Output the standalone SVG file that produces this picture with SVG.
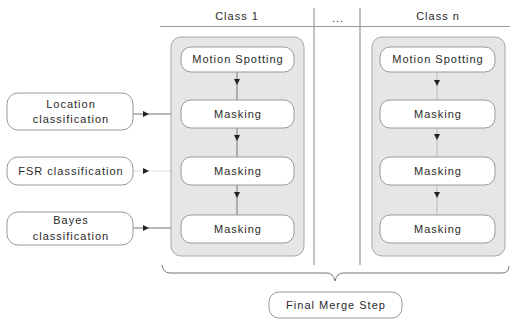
<svg xmlns="http://www.w3.org/2000/svg" width="510" height="320" viewBox="0 0 510 320">
<style>
text{font-family:"Liberation Sans",Arial,sans-serif;font-size:11px;letter-spacing:1px;fill:#2a2a2a;text-anchor:middle}
.panel{fill:#e6e6e6;stroke:#a8a8a8;stroke-width:1}
.box{fill:#fff;stroke:#9a9a9a;stroke-width:1}
.ln{stroke:#777;stroke-width:1;fill:none}
.sep{stroke:#999;stroke-width:1.2;fill:none}
</style>
<g id="header">
<text x="237" y="20">Class 1</text>
<text x="338" y="22">...</text>
<text x="438" y="20">Class n</text>
<line class="sep" x1="160" y1="26.5" x2="510" y2="26.5"/>
<line class="sep" x1="314" y1="8" x2="314" y2="265"/>
<line class="sep" x1="360" y1="8" x2="360" y2="265"/>
</g>
<g id="class1">
<rect class="panel" x="171" y="37" width="133" height="219" rx="10"/>
</g>
<g id="classn">
<rect class="panel" x="372" y="37" width="133" height="219" rx="10"/>
</g>
<g id="connectors">
<line class="ln" x1="237" y1="72" x2="237" y2="100"/>
<line class="ln" x1="237" y1="128" x2="237" y2="157"/>
<line class="ln" x1="237" y1="185" x2="237" y2="215"/>
<line class="ln" x1="437" y1="72" x2="437" y2="100" stroke-opacity="0.4"/>
<line class="ln" x1="437" y1="128" x2="437" y2="157" stroke-opacity="0.4"/>
<line class="ln" x1="437" y1="185" x2="437" y2="215" stroke-opacity="0.4"/>
<path d="M234,79 L240,79 L237,85 Z" fill="#222"/>
<path d="M234,135 L240,135 L237,141 Z" fill="#222"/>
<path d="M234,192 L240,192 L237,198 Z" fill="#222"/>
<path d="M434,80 L440,80 L437,86 Z" fill="#222"/>
<path d="M434,134 L440,134 L437,140 Z" fill="#222"/>
<path d="M434,192 L440,192 L437,198 Z" fill="#222"/>
<line class="ln" x1="133" y1="114" x2="171" y2="114"/>
<line class="ln" x1="133" y1="171" x2="171" y2="171" stroke-opacity="0.25"/>
<line class="ln" x1="133" y1="228" x2="171" y2="228"/>
<path d="M143,111 L149,114 L143,117 Z" fill="#222"/>
<path d="M143,168 L149,171 L143,174 Z" fill="#222"/>
<path d="M143,225 L149,228 L143,231 Z" fill="#222"/>
<path class="ln" d="M162,265 Q163,273 170,273 L327,273 Q333,273 335,281 Q337,273 343,273 L502,273 Q509,273 509,266" stroke="#333"/>
</g>
<g id="ms1"><rect class="box" x="181" y="47" width="113" height="25" rx="10"/><text x="238" y="63">Motion Spotting</text></g>
<g id="mk1a"><rect class="box" x="181" y="100" width="113" height="28" rx="10"/><text x="238" y="118">Masking</text></g>
<g id="mk1b"><rect class="box" x="181" y="157" width="113" height="28" rx="10"/><text x="238" y="175">Masking</text></g>
<g id="mk1c"><rect class="box" x="181" y="215" width="113" height="28" rx="10"/><text x="238" y="233">Masking</text></g>
<g id="msn"><rect class="box" x="380" y="47" width="115" height="25" rx="10"/><text x="438" y="63">Motion Spotting</text></g>
<g id="mkna"><rect class="box" x="380" y="100" width="115" height="28" rx="10"/><text x="438" y="118">Masking</text></g>
<g id="mknb"><rect class="box" x="380" y="157" width="115" height="28" rx="10"/><text x="438" y="175">Masking</text></g>
<g id="mknc"><rect class="box" x="380" y="215" width="115" height="28" rx="10"/><text x="438" y="233">Masking</text></g>
<g id="loc"><rect class="box" x="7" y="93" width="126" height="37" rx="11"/><text x="71" y="108">Location</text><text x="71" y="123">classification</text></g>
<g id="fsr"><rect class="box" x="7" y="157" width="126" height="28" rx="11"/><text x="71" y="175">FSR classification</text></g>
<g id="bayes"><rect class="box" x="7" y="212" width="126" height="33" rx="11"/><text x="71" y="224">Bayes</text><text x="71" y="240">classification</text></g>
<g id="merge"><rect class="box" x="269" y="292" width="133" height="26" rx="10"/><text x="336" y="309">Final Merge Step</text></g>
</svg>
